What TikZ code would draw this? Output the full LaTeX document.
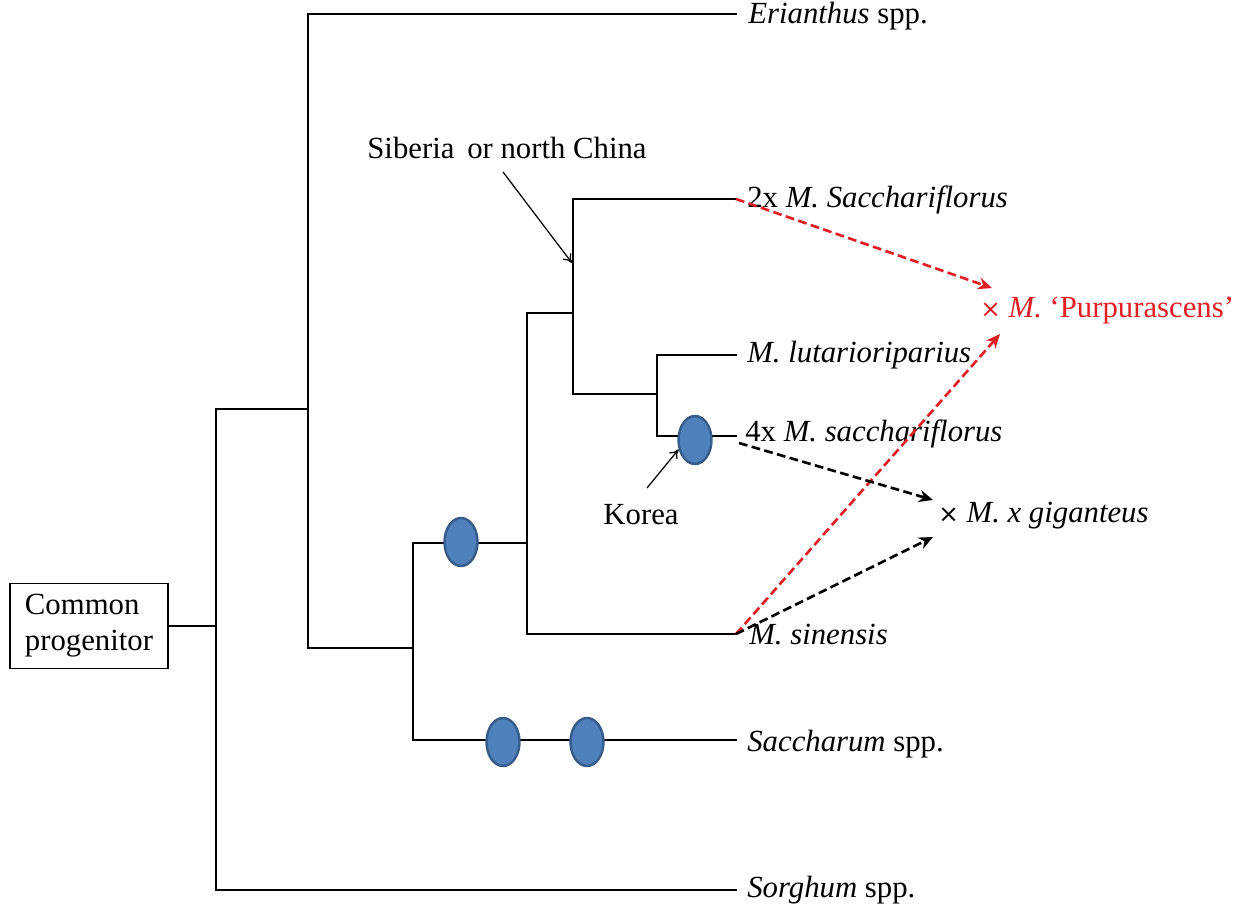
\documentclass[tikz,border=0pt]{standalone}
\usepackage{fontspec}
\setmainfont{Liberation Serif}
\usetikzlibrary{arrows.meta,shapes.geometric}
\definecolor{hybred}{RGB}{225,30,35}
\definecolor{dotfill}{RGB}{79,129,189}
\definecolor{dotedge}{RGB}{56,93,138}
\tikzset{
  branch/.style={line width=1.5pt, line cap=rect},
  leaf/.style={anchor=west, inner sep=0pt, font=\fontsize{17.5}{20}\selectfont},
  note/.style={inner sep=0pt, font=\fontsize{17.5}{20}\selectfont},
  dot/.style={ellipse, draw=dotedge, line width=1.4pt, fill=dotfill, minimum width=0.66cm, minimum height=0.96cm, inner sep=0pt},
  pointer/.style={line width=0.7pt, -{To[length=5pt,width=6pt]}},
  cross/.style={line width=1.5pt, dash pattern=on 5pt off 2.5pt, -{Stealth[length=8pt,width=7pt]}},
}
\newfontfamily\symfont{DejaVu Sans}
\begin{document}
\begin{tikzpicture}[x=0.02cm,y=-0.02cm]
\useasboundingbox (0,0) rectangle (1234,911);
% root box
\node[draw, line width=0.7pt, align=left, inner xsep=7pt, inner ysep=4pt, font=\fontsize{17.5}{20.5}\selectfont, minimum width=3.16cm, minimum height=1.7cm] (root) at (89,626) {Common\\progenitor};
% coordinates
\coordinate (n0) at (216,626);
\coordinate (n0t) at (216,409);
\coordinate (n0b) at (216,890);
\coordinate (n1) at (308,409);
\coordinate (n1t) at (308,14);
\coordinate (n1b) at (308,648);
\coordinate (n2) at (413,648);
\coordinate (n2t) at (413,543);
\coordinate (n2b) at (413,740);
\coordinate (n3) at (527,543);
\coordinate (n3t) at (527,313);
\coordinate (n3b) at (527,634);
\coordinate (n4) at (573,313);
\coordinate (n4t) at (573,199);
\coordinate (n4b) at (573,394);
\coordinate (n5) at (657,394);
\coordinate (n5t) at (657,355);
\coordinate (n5b) at (657,436);
% leaf tips
\coordinate (tEri) at (736,14);
\coordinate (tSac2) at (736,199);
\coordinate (tLut) at (736,355);
\coordinate (tSac4) at (736,436);
\coordinate (tSin) at (736,634);
\coordinate (tSach) at (736,740);
\coordinate (tSor) at (736,890);
% leaf labels
\node[leaf] (lEri) at (748,16) {\textit{Erianthus} spp.};
\node[leaf] (lSac2) at (747,200) {2x \textit{M. Sacchariflorus}};
\node[leaf] (lLut) at (747,355) {\textit{M. lutarioriparius}};
\node[leaf] (lSac4) at (745,434) {4x \textit{M. sacchariflorus}};
\node[leaf] (lSin) at (749,635) {\textit{M. sinensis}};
\node[leaf] (lSach) at (747,744) {\textit{Saccharum} spp.};
\node[leaf] (lSor) at (747,890) {\textit{Sorghum} spp.};
% hybrids
\node[leaf, text=hybred] (pur) at (980,311) {{\symfont\fontsize{14}{15}\selectfont ×} \textit{M.} ‘Purpurascens’};
\node[leaf] (gig) at (938,516) {{\symfont\fontsize{14}{15}\selectfont ×} \textit{M. x giganteus}};
% tree
\draw[branch] (root.east |- n0) -- (n0);
\draw[branch] (n0t) -- (n0b);
\draw[branch] (n0t) -- (n1);
\draw[branch] (n1t) -- (n1b);
\draw[branch] (n1t) -- (tEri);
\draw[branch] (n1b) -- (n2);
\draw[branch] (n2t) -- (n2b);
\draw[branch] (n2t) -- (n3);
\draw[branch] (n3t) -- (n3b);
\draw[branch] (n3t) -- (n4);
\draw[branch] (n4t) -- (n4b);
\draw[branch] (n4t) -- (tSac2);
\draw[branch] (n4b) -- (n5);
\draw[branch] (n5t) -- (n5b);
\draw[branch] (n5t) -- (tLut);
\draw[branch] (n5b) -- (tSac4);
\draw[branch] (n3b) -- (tSin);
\draw[branch] (n2b) -- (tSach);
\draw[branch] (n0b) -- (tSor);
% dots
\node[dot] (d1) at (461,542) {};
\node[dot] (d2) at (695,440) {};
\node[dot] (d3) at (503,742) {};
\node[dot] (d4) at (587,742) {};
% annotations
\node[note] (sib) at (507,148) {Siberia\, or north China};
\coordinate (sibTip) at (572,263);
\draw[pointer] (503,172) -- (sibTip);
\node[note] (kor) at (641,515) {Korea};
\draw[pointer] (647,488) -- (d2.210);
% crosses
\draw[cross, hybred] (tSac2) -- (992,288);
\draw[cross, hybred] (tSin) -- (1000,334);
\draw[cross] (739,443) -- (933,500);
\draw[cross] (tSin) -- (933,537);
\end{tikzpicture}
\end{document}
